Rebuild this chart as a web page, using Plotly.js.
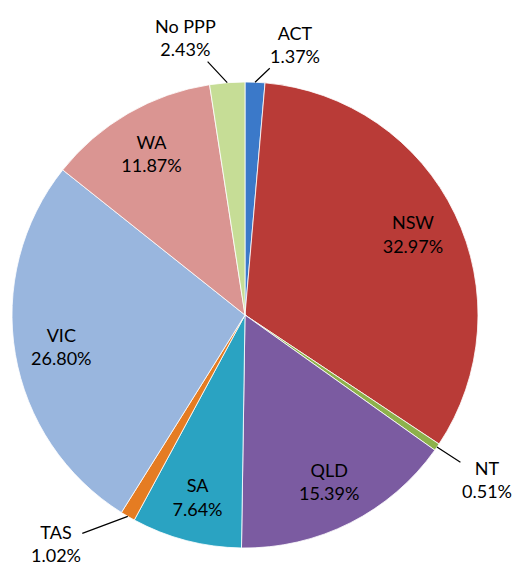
<!DOCTYPE html>
<html>
<head>
<meta charset="utf-8">
<script src="https://cdn.plot.ly/plotly-3.0.1.min.js"></script>
<style>html,body{margin:0;padding:0;background:#fff;}#chart{width:515px;height:567px;}</style>
</head>
<body>
<div id="chart"></div>
<script>
const labels = ["ACT", "NSW", "NT", "QLD", "SA", "TAS", "VIC", "WA", "No PPP"];
const values = [1.37, 32.97, 0.51, 15.39, 7.64, 1.02, 26.80, 11.87, 2.43];
const colors = ["#3b79c9", "#b93b37", "#8db14b", "#7b5ba1", "#2aa3c2", "#e57c22", "#99b6de", "#da9592", "#c6dd96"];
// slices labelled outside with a leader line, and their label offsets (px)
const outsideLabels = {"ACT": [40, -38], "No PPP": [-42, -45], "NT": [50, 32], "TAS": [-72, 27]};

const FONT = "Lato, 'Open Sans', sans-serif";
const total = values.reduce((a, b) => a + b, 0);

const insideTemplates = labels.map(l => outsideLabels[l] ? "" : "%{label}<br>%{value:.2f}%");

const traces = [
  {
    type: "pie",
    labels: labels,
    values: values,
    sort: false,
    direction: "clockwise",
    rotation: 0,
    marker: {colors: colors, line: {color: "#ffffff", width: 0.8}},
    textinfo: "none",
    hoverinfo: "label+percent",
    showlegend: false
  },
  {
    type: "pie",
    labels: labels,
    values: values,
    sort: false,
    direction: "clockwise",
    rotation: 0,
    hole: 0.6,
    marker: {colors: labels.map(() => "rgba(0,0,0,0)"), line: {width: 0}},
    texttemplate: insideTemplates,
    textposition: "inside",
    insidetextorientation: "horizontal",
    insidetextfont: {family: FONT, size: 18, color: "#000"},
    hoverinfo: "skip",
    showlegend: false
  }
];

// leader-line labels for the small slices, anchored on the slice's outer edge
const annotations = [];
let cum = 0;
values.forEach((v, i) => {
  const mid = (cum + v / 2) / total * 2 * Math.PI;
  cum += v;
  const off = outsideLabels[labels[i]];
  if (!off) return;
  annotations.push({
    xref: "paper", yref: "paper",
    x: 0.5 + 0.5 * Math.sin(mid),
    y: 0.5 + 0.5 * Math.cos(mid),
    text: labels[i] + "<br>" + v.toFixed(2) + "%",
    showarrow: true, arrowhead: 0, arrowwidth: 1.2, arrowcolor: "#000",
    ax: off[0], ay: off[1],
    font: {family: FONT, size: 18, color: "#000"},
    align: "center"
  });
});

Plotly.newPlot("chart", traces, {
  width: 515,
  height: 567,
  margin: {l: 12, r: 37, t: 82, b: 19},
  paper_bgcolor: "#ffffff",
  showlegend: false,
  annotations: annotations
}, {displayModeBar: false, staticPlot: true});
</script>
</body>
</html>
